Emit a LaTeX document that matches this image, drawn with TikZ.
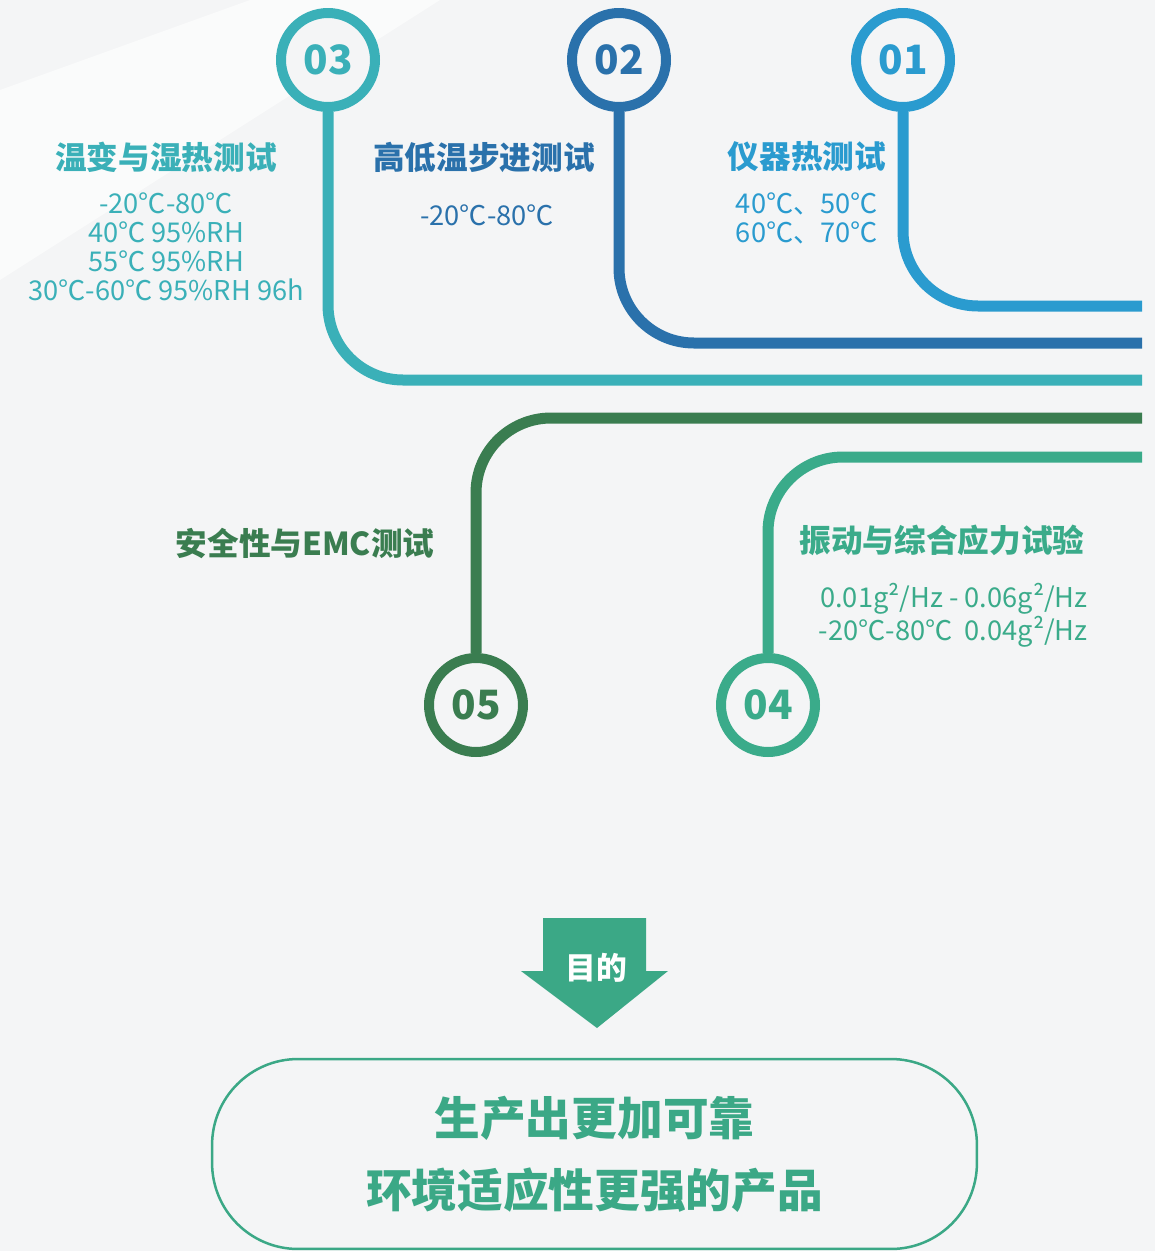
\documentclass[tikz,border=0pt]{standalone}
\usepackage{fontspec}
\setmainfont{Noto Sans CJK SC}
\usepackage{xcolor}
\usepackage{tikz}
\usetikzlibrary{positioning}
\definecolor{bgc}{HTML}{F4F5F6}
\definecolor{cone}{HTML}{2A9BCF}
\definecolor{ctwo}{HTML}{2A71AB}
\definecolor{cthree}{HTML}{3AB0B8}
\definecolor{cfour}{HTML}{3AAB8A}
\definecolor{cfive}{HTML}{3A7D50}
\definecolor{aimc}{HTML}{3BA886}
\tikzstyle{num} = [circle, minimum size=1.88cm, inner sep=0pt, line width=0.2cm, fill=bgc, font=\fontsize{23}{23}\selectfont\bfseries]
\tikzstyle{track} = [line width=0.22cm, rounded corners=1.5cm]
\tikzstyle{title} = [font=\fontsize{18}{20}\selectfont\bfseries, inner sep=0pt]
\tikzstyle{info} = [font=\fontsize{15.5}{16.4}\selectfont, align=center, inner sep=0pt]

\begin{document}
\begin{tikzpicture}[x=0.02cm, y=-0.02cm]
% Background
\fill[bgc] (0,0) rectangle (1155,1251);
\fill[white, opacity=0.6] (0,90) -- (250,0) -- (440,0) -- (0,280) -- cycle;
\useasboundingbox (0,0) rectangle (1155,1251);

% Number circles
\node (n3) [num, draw=cthree, text=cthree] at (328,60) {03};
\node (n2) [num, draw=ctwo, text=ctwo] at (619,60) {02};
\node (n1) [num, draw=cone, text=cone] at (903,60) {01};
\node (n5) [num, draw=cfive, text=cfive] at (476,705) {05};
\node (n4) [num, draw=cfour, text=cfour] at (768,705) {04};

% Track ends
\coordinate (e1) at (1142,306);
\coordinate (e2) at (1142,343);
\coordinate (e3) at (1142,380);
\coordinate (e5) at (1142,418);
\coordinate (e4) at (1142,457);

% Tracks
\draw [track, cone] (n1.south) |- (e1);
\draw [track, ctwo] (n2.south) |- (e2);
\draw [track, cthree] (n3.south) |- (e3);
\draw [track, cfive] (n5.north) |- (e5);
\draw [track, cfour] (n4.north) |- (e4);

% Labels
\node (t3) [title, text=cthree] at (166,157) {温变与湿热测试};
\node (d3) [info, text=cthree] at (166,247) {-20℃-80℃\\40℃ 95\%RH\\55℃ 95\%RH\\30℃-60℃ 95\%RH 96h};
\node (t2) [title, text=ctwo] at (484,157) {高低温步进测试};
\node (d2) [info, text=ctwo] at (487,215) {-20℃-80℃};
\node (t1) [title, text=cone] at (807,157) {仪器热测试};
\node (d1) [info, text=cone] at (807,218) {40℃、50℃\\60℃、70℃};
\node (t5) [title, text=cfive] at (305,543) {安全性与EMC测试};
\node (t4) [title, text=cfour] at (942,540) {振动与综合应力试验};
\node (d4) [info, text=cfour, align=right, anchor=east] at (1088,615) {0.01g²/Hz - 0.06g²/Hz\\-20℃-80℃~~0.04g²/Hz};

% Aim arrow
\fill [aimc] (543,918) -- (646,918) -- (646,971) -- (668,971) -- (597,1028) -- (521,971) -- (543,971) -- cycle;
\node (aim) [text=white, font=\fontsize{17.5}{18}\selectfont\bfseries] at (596,968) {目的};

% Result box
\node (res) [draw=aimc, line width=0.05cm, rounded corners=1.72cm, minimum width=15.3cm, minimum height=3.8cm, text=aimc, align=center, font=\fontsize{26}{40.8}\selectfont\bfseries] at (594.5,1154) {生产出更加可靠\\环境适应性更强的产品};

\end{tikzpicture}
\end{document}
